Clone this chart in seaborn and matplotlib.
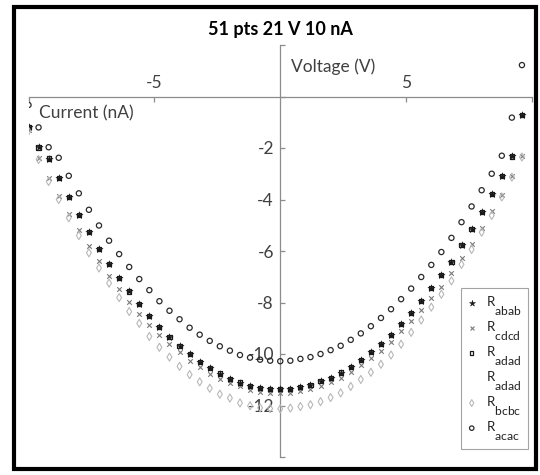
import matplotlib
matplotlib.use("Agg")
import matplotlib.pyplot as plt
import matplotlib._mathtext as _mt
from matplotlib.patches import Rectangle
import numpy as np
import pandas as pd
import seaborn as sns

# ---------------- data ----------------
voltage = [-10.0, -9.6, -9.2, -8.8, -8.4, -8.0, -7.6, -7.2, -6.8, -6.4,
           -6.0, -5.6, -5.2, -4.8, -4.4, -4.0, -3.6, -3.2, -2.8, -2.4,
           -2.0, -1.6, -1.2, -0.8, -0.4, 0.0, 0.4, 0.8, 1.2, 1.6,
           2.0, 2.4, 2.8, 3.2, 3.6, 4.0, 4.4, 4.8, 5.2, 5.6,
           6.0, 6.4, 6.8, 7.2, 7.6, 8.0, 8.4, 8.8, 9.2, 9.6]

r_abab = [-1.17, -1.98, -2.41, -3.18, -3.91, -4.61, -5.27, -5.91, -6.49, -7.06,
          -7.57, -8.07, -8.52, -8.94, -9.33, -9.68, -10.00, -10.31, -10.54, -10.76,
          -10.97, -11.11, -11.24, -11.33, -11.35, -11.37, -11.35, -11.29, -11.20, -11.06,
          -10.92, -10.72, -10.51, -10.23, -9.93, -9.61, -9.26, -8.85, -8.40, -7.94,
          -7.45, -6.94, -6.43, -5.78, -5.16, -4.50, -3.78, -3.08, -2.33, -0.72]

r_cdcd = [-1.30, -2.39, -3.18, -3.88, -4.56, -5.20, -5.81, -6.39, -6.97, -7.49,
          -7.98, -8.43, -8.87, -9.27, -9.61, -9.93, -10.26, -10.52, -10.76, -10.96,
          -11.12, -11.26, -11.38, -11.48, -11.52, -11.52, -11.50, -11.44, -11.35, -11.25,
          -11.09, -10.93, -10.71, -10.43, -10.17, -9.90, -9.52, -9.12, -8.71, -8.28,
          -7.84, -7.38, -6.87, -6.29, -5.74, -5.10, -4.46, -3.81, -3.08, -2.33]

r_adad = [-1.17, -1.98, -2.41, -3.18, -3.91, -4.61, -5.27, -5.91, -6.49, -7.06,
          -7.57, -8.07, -8.52, -8.94, -9.33, -9.68, -10.00, -10.31, -10.54, -10.76,
          -10.97, -11.11, -11.24, -11.33, -11.35, -11.37, -11.35, -11.29, -11.20, -11.06,
          -10.92, -10.72, -10.51, -10.23, -9.93, -9.61, -9.26, -8.85, -8.40, -7.94,
          -7.45, -6.94, -6.43, -5.78, -5.16, -4.50, -3.78, -3.08, -2.33, -0.72]

r_adad2 = list(r_adad)

r_bcbc = [-1.35, -2.45, -3.30, -4.00, -4.71, -5.40, -6.07, -6.66, -7.25, -7.81,
          -8.35, -8.81, -9.32, -9.74, -10.12, -10.48, -10.80, -11.08, -11.33, -11.56,
          -11.71, -11.90, -12.01, -12.09, -12.12, -12.13, -12.10, -12.04, -11.97, -11.85,
          -11.69, -11.51, -11.26, -10.99, -10.71, -10.40, -10.04, -9.62, -9.16, -8.68,
          -8.18, -7.68, -7.16, -6.52, -5.94, -5.27, -4.62, -3.90, -3.13, -2.35]

r_acac = [-0.33, -1.20, -1.97, -2.38, -3.08, -3.76, -4.40, -5.01, -5.60, -6.12,
          -6.62, -7.09, -7.52, -7.95, -8.32, -8.65, -8.98, -9.25, -9.49, -9.70,
          -9.87, -10.04, -10.14, -10.22, -10.26, -10.28, -10.26, -10.19, -10.12, -10.00,
          -9.85, -9.68, -9.45, -9.20, -8.92, -8.60, -8.26, -7.87, -7.46, -7.01,
          -6.54, -6.04, -5.49, -4.88, -4.27, -3.64, -3.00, -2.30, -0.82, 1.22]

series_labels = [r"R$_{\mathrm{abab}}$", r"R$_{\mathrm{cdcd}}$", r"R$_{\mathrm{adad}}$",
                 r"R$_{\mathrm{adad}}$", r"R$_{\mathrm{bcbc}}$", r"R$_{\mathrm{acac}}$"]

x_ticks = [-10, -5, 5, 10]
x_tick_labels = ["", "-5", "5", ""]
y_ticks = [2, 0, -2, -4, -6, -8, -10, -12, -14]
y_tick_labels = ["", "", "-2", "-4", "-6", "-8", "-10", "-12", ""]

title = "51 pts 21 V 10 nA"
x_label = "Voltage (V)"
y_label = "Current (nA)"

# ---------------- style ----------------
sns.set_theme(style="white")
plt.rcParams["font.family"] = ["Lato", "DejaVu Sans"]
plt.rcParams["mathtext.fontset"] = "custom"
plt.rcParams["mathtext.rm"] = "Lato"
plt.rcParams["mathtext.it"] = "Lato:italic"
plt.rcParams["mathtext.bf"] = "Lato:bold"
# subscripts in the reference are almost full size and sit well below the R
_mt.SHRINK_FACTOR = 0.92
_mt.FontConstantsBase.sub1 = 1.4

fig = plt.figure(figsize=(5.4, 4.75), dpi=100)
fig.patch.set_facecolor("white")
ax = fig.add_axes([28.5 / 540, 18 / 475, 503.5 / 540, 412 / 475])
ax.set_facecolor("white")

series = [r_abab, r_cdcd, r_adad, r_adad2, r_bcbc, r_acac]
frames = [pd.DataFrame({"V": voltage, "I": s}) for s in series]

# Rabab: filled star
sns.scatterplot(data=frames[0], x="V", y="I", marker="*", s=30, color="#1a1a1a",
                edgecolor="#1a1a1a", linewidth=0.3, ax=ax, label=series_labels[0], zorder=3)
# Rcdcd: grey x
sns.scatterplot(data=frames[1], x="V", y="I", marker="x", s=11, color="#7a7a7a",
                linewidth=0.8, ax=ax, label=series_labels[1], zorder=3)
# Radad: open square
sns.scatterplot(data=frames[2], x="V", y="I", marker="s", s=9, facecolor="none",
                edgecolor="#1a1a1a", linewidth=0.9, ax=ax, label=series_labels[2], zorder=3)
# Radad (second): nearly invisible
sns.scatterplot(data=frames[3], x="V", y="I", marker=".", s=2, color="#f4f4f4",
                linewidth=0, ax=ax, label=series_labels[3], zorder=1)
# Rbcbc: light grey open diamond
sns.scatterplot(data=frames[4], x="V", y="I", marker="d", s=17, facecolor="none",
                edgecolor="#b8b8b8", linewidth=0.8, ax=ax, label=series_labels[4], zorder=3)
# Racac: open circle
sns.scatterplot(data=frames[5], x="V", y="I", marker="o", s=14, facecolor="none",
                edgecolor="#2a2a2a", linewidth=0.9, ax=ax, label=series_labels[5], zorder=4)

ax.set_xlim(-10, 10)
ax.set_ylim(-14, 2)

# axes crossing at the origin
ax.spines["right"].set_visible(False)
ax.spines["left"].set_position(("data", 0))
ax.spines["bottom"].set_position(("data", 0))
ax.spines["top"].set_position(("data", 0))
ax.spines["top"].set_visible(False)
for side in ["left", "bottom"]:
    ax.spines[side].set_color("#8c8c8c")
    ax.spines[side].set_linewidth(0.9)
    ax.spines[side].set_zorder(2)

ax.set_xticks(x_ticks)
ax.set_xticklabels(x_tick_labels)
ax.tick_params(axis="x", bottom=True, top=False, labelbottom=False, labeltop=True,
               direction="out", length=3.6, width=0.9, color="#8c8c8c",
               labelsize=12.5, labelcolor="#404040", pad=0.5)

ax.set_yticks(y_ticks)
ax.set_yticklabels(y_tick_labels)
ax.tick_params(axis="y", left=True, right=False, direction="in", length=3.6, width=0.9,
               color="#8c8c8c", labelsize=12.5, labelcolor="#404040", pad=4.5)

ax.set_xlabel(x_label, fontsize=12.5, color="#404040", ha="left", va="center")
ax.xaxis.set_label_coords(0.521, 0.947)
ax.set_ylabel(y_label, fontsize=12.5, color="#404040", rotation=0, ha="left", va="center")
ax.yaxis.set_label_coords(0.021, 0.835)

ax.set_title(title, fontsize=13, fontweight="bold", color="black", pad=7.5)

leg = ax.legend(loc="upper left", bbox_to_anchor=(0.858, 0.41), borderaxespad=0,
                frameon=True, fancybox=False, edgecolor="#8c8c8c", fontsize=9.5,
                handlelength=0.8, handletextpad=0.7, labelspacing=0.1,
                borderpad=0.45, markerscale=0.85)
leg.get_frame().set_linewidth(0.8)
for t in leg.get_texts():
    t.set_color("#222222")

# outer black frame
fig.add_artist(Rectangle((14 / 540, 6 / 475), (535.5 - 14) / 540, (469 - 7) / 475,
                         transform=fig.transFigure, fill=False, edgecolor="black",
                         linewidth=3.0))

fig.savefig("out.png", dpi=100)
